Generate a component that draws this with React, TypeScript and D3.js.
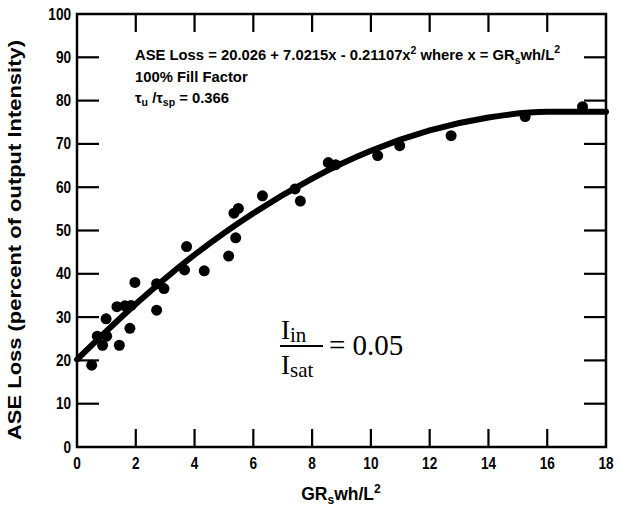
import React from "react";
import * as d3 from "d3";

// Measured data points (x = GRs wh/L^2, y = ASE loss %)
const pointX = [0.5, 0.69, 0.87, 1.01, 0.99, 1.44, 1.36, 1.63, 1.84, 1.97, 1.8, 2.71, 2.71, 2.96, 3.66, 3.73, 4.33, 5.16, 5.4, 5.34, 5.49, 6.31, 7.42, 7.6, 8.55, 8.8, 10.23, 10.98, 12.73, 15.25, 17.2];
const pointY = [18.9, 25.6, 23.5, 25.6, 29.6, 23.5, 32.4, 32.6, 32.7, 38.0, 27.4, 37.7, 31.6, 36.6, 40.9, 46.3, 40.7, 44.1, 48.3, 54.0, 55.1, 58.0, 59.6, 56.8, 65.7, 65.2, 67.3, 69.6, 71.9, 76.3, 78.6];

// Fit curve
const curveX = [0, 2, 4, 6, 8, 10, 12, 14, 16, 18];
const curveY = [20.2, 33.0, 44.4, 54.0, 62.0, 68.4, 73.1, 76.1, 77.4, 77.4];

const xTicks = [0, 2, 4, 6, 8, 10, 12, 14, 16, 18];
const yTicks = [0, 10, 20, 30, 40, 50, 60, 70, 80, 90, 100];

const W = 620;
const H = 509;
const L = 77, R = 606, T = 14, B = 447;

export default function App() {
  const x = d3.scaleLinear().domain([0, 18]).range([L, R]);
  const y = d3.scaleLinear().domain([0, 100]).range([B, T]);
  const line = d3
    .line<number>()
    .x((_, i) => x(curveX[i]))
    .y((d) => y(d))
    .curve(d3.curveMonotoneX);
  const font = "'Liberation Sans', Arial, Helvetica, sans-serif";
  const serif = "'Liberation Serif', 'Times New Roman', serif";
  const innerX = xTicks.filter((t) => t > 0 && t < 18);
  const innerY = yTicks.filter((t) => t > 0 && t < 100);
  return (
    <svg
      width={W}
      height={H}
      viewBox={`0 0 ${W} ${H}`}
      style={{ position: "absolute", left: 0, top: 0, background: "#fff" }}
    >
      <rect x={0} y={0} width={W} height={H} fill="#fff" />
      {/* frame */}
      <rect x={L} y={T} width={R - L} height={B - T} fill="none" stroke="#000" strokeWidth={2.5} />
      {/* ticks */}
      {innerY.map((t) => (
        <g key={"y" + t}>
          <line x1={L} x2={L + 22} y1={y(t)} y2={y(t)} stroke="#000" strokeWidth={2.2} />
          <line x1={R} x2={R - 22} y1={y(t)} y2={y(t)} stroke="#000" strokeWidth={2.2} />
        </g>
      ))}
      {innerX.map((t) => (
        <g key={"x" + t}>
          <line x1={x(t)} x2={x(t)} y1={B} y2={B - 18} stroke="#000" strokeWidth={2.2} />
          <line x1={x(t)} x2={x(t)} y1={T} y2={T + 18} stroke="#000" strokeWidth={2.2} />
        </g>
      ))}
      {/* tick labels (condensed) */}
      {yTicks.map((t) => (
        <text
          key={"yl" + t}
          transform={`translate(71,${y(t) + 5.5}) scale(0.85,1)`}
          textAnchor="end"
          fontFamily={font}
          fontWeight="bold"
          fontSize={16}
        >
          {t}
        </text>
      ))}
      {xTicks.map((t) => (
        <text
          key={"xl" + t}
          transform={`translate(${x(t)},469) scale(0.85,1)`}
          textAnchor="middle"
          fontFamily={font}
          fontWeight="bold"
          fontSize={16}
        >
          {t}
        </text>
      ))}
      {/* axis titles */}
      <text
        transform={`translate(21,240) rotate(-90)`}
        textAnchor="middle"
        fontFamily={font}
        fontWeight="bold"
        fontSize={17.5}
        textLength={400}
        lengthAdjust="spacingAndGlyphs"
      >
        ASE Loss (percent of output Intensity)
      </text>
      <text x={341} y={500} textAnchor="middle" fontFamily={font} fontWeight="bold" fontSize={17.5}>
        GR<tspan fontSize={12} dy={4}>s</tspan>
        <tspan dy={-4}>wh/L</tspan>
        <tspan fontSize={12} dy={-7}>2</tspan>
      </text>
      {/* annotation */}
      <g fontFamily={font} fontWeight="bold" fontSize={14.8}>
        <text x={135} y={60}>
          ASE Loss = 20.026 + 7.0215x - 0.21107x<tspan fontSize={10.5} dy={-6}>2</tspan>
          <tspan dy={6}> where x = GR</tspan>
          <tspan fontSize={10.5} dy={4}>s</tspan>
          <tspan dy={-4}>wh/L</tspan>
          <tspan fontSize={10.5} dy={-7}>2</tspan>
        </text>
        <text x={135} y={82}>100% Fill Factor</text>
        <text x={135} y={103}>
          τ<tspan fontSize={10.5} dy={3}>u</tspan>
          <tspan dy={-3}> /τ</tspan>
          <tspan fontSize={10.5} dy={3}>sp</tspan>
          <tspan dy={-3}> = 0.366</tspan>
        </text>
      </g>
      {/* fit curve */}
      <path d={line(curveY) || ""} fill="none" stroke="#000" strokeWidth={6} strokeLinecap="round" />
      {/* data points */}
      {pointX.map((px, i) => (
        <circle key={"p" + i} cx={x(px)} cy={y(pointY[i])} r={5.5} fill="#000" />
      ))}
      {/* ratio label */}
      <g fontFamily={serif} fontSize={27}>
        <text x={281} y={339}>
          I<tspan fontSize={21} dy={3}>in</tspan>
        </text>
        <line x1={280} x2={323} y1={346} y2={346} stroke="#000" strokeWidth={2} />
        <text x={281} y={374}>
          I<tspan fontSize={21} dy={3}>sat</tspan>
        </text>
        <text x={329} y={355} fontSize={29}>
          = 0.05
        </text>
      </g>
    </svg>
  );
}
